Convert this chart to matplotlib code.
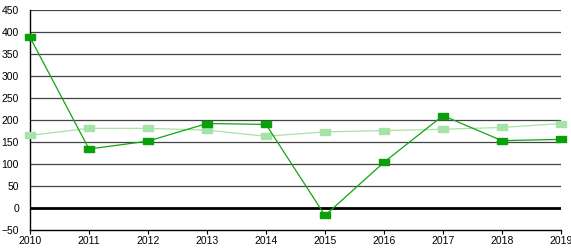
import matplotlib
matplotlib.use("Agg")
import matplotlib.pyplot as plt

years = [2010, 2011, 2012, 2013, 2014, 2015, 2016, 2017, 2018, 2019]
series_dark = [388, 134, 152, 192, 190, -17, 104, 210, 153, 156]
series_light = [165, 181, 181, 177, 163, 173, 176, 179, 183, 192]
yticks = list(range(-50, 451, 50))

plt.rcParams["font.family"] = ["Liberation Sans", "DejaVu Sans"]

fig = plt.figure(figsize=(5.71, 2.5), dpi=100)
ax = fig.add_axes([30 / 571, 20 / 250, 531 / 571, 220 / 250])

# rectangular marker, wider than tall
rect = [(-1, -0.62), (1, -0.62), (1, 0.62), (-1, 0.62), (-1, -0.62)]

for y in yticks:
    if y in (0, -50):
        continue
    ax.axhline(y, color="#444444", lw=0.9, zorder=1)
ax.axhline(0, color="black", lw=2.0, zorder=2)

ax.plot(years, series_light, color="#a6e3a6", lw=0.9, marker=rect, ms=7,
        mec="#a6e3a6", mfc="#a6e3a6", zorder=3, clip_on=False)
ax.plot(years, series_dark, color="#11a511", lw=0.9, marker=rect, ms=7,
        mec="#0aa00a", mfc="#0aa00a", zorder=4, clip_on=False)

ax.set_xlim(2010, 2019)
ax.set_ylim(-50, 450)
ax.set_xticks(years)
ax.set_yticks(yticks)
ax.tick_params(axis="y", length=0, labelsize=7.5, pad=8)
ax.tick_params(axis="x", length=3, width=0.8, labelsize=7.5, pad=1)
for side in ("top", "right"):
    ax.spines[side].set_visible(False)
for side in ("left", "bottom"):
    ax.spines[side].set_color("black")
    ax.spines[side].set_linewidth(1.0)

fig.savefig("out.png", dpi=100)
